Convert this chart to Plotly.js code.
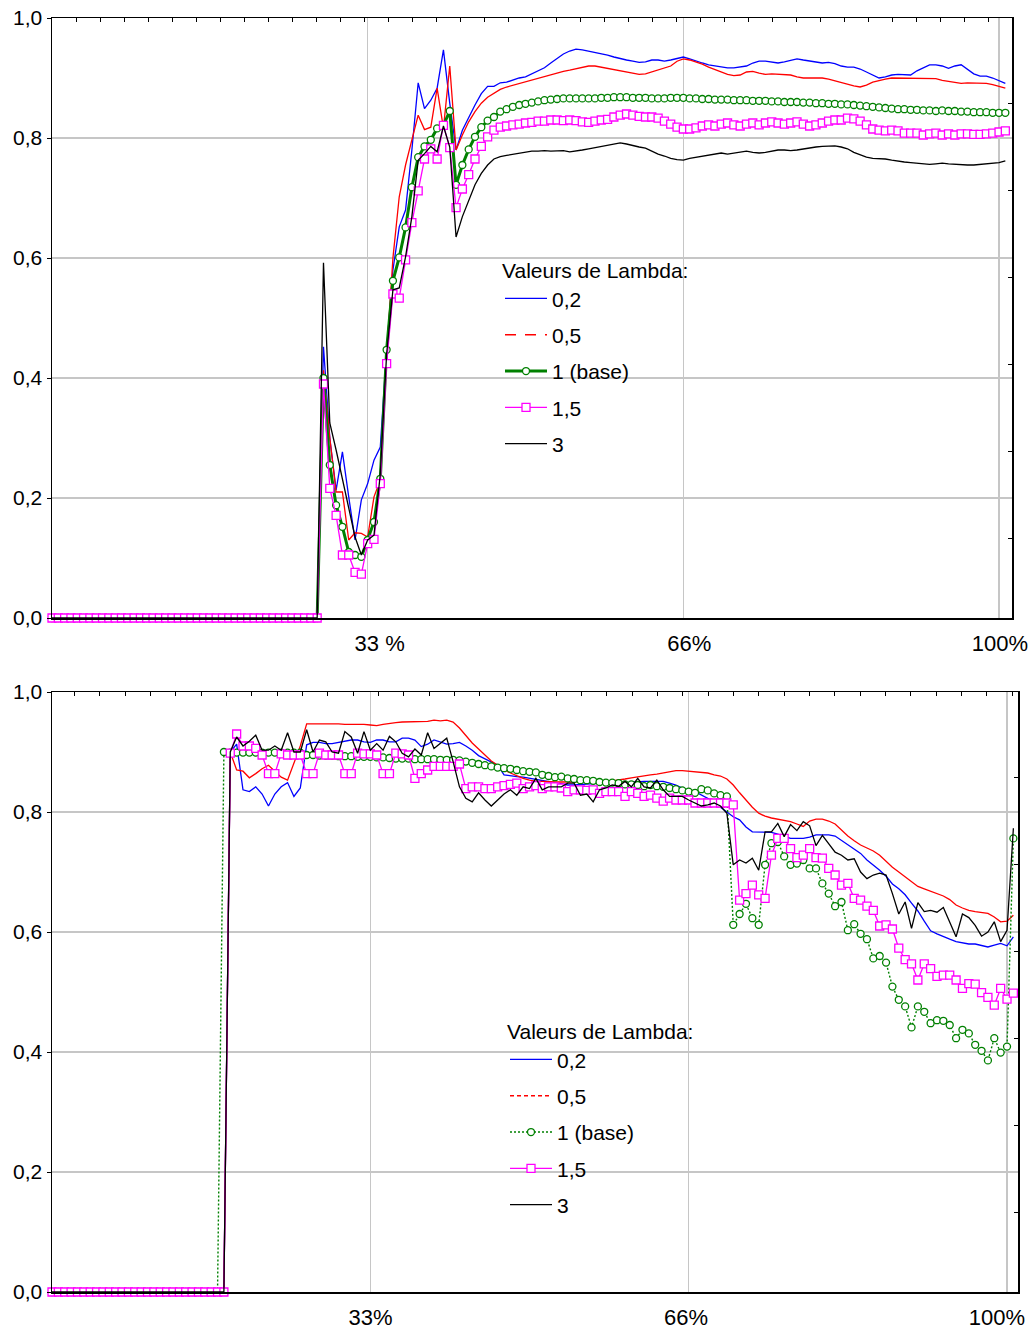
<!DOCTYPE html>
<html>
<head>
<meta charset="utf-8">
<script src="https://cdn.plot.ly/plotly-3.0.1.min.js"></script>
<style>
  html, body { margin: 0; padding: 0; background: #ffffff; }
  #chart { width: 1033px; height: 1331px; }
</style>
</head>
<body>
<div id="chart"></div>
<script>
// Sample spacing along the horizontal axis (percent of the horizon per step)
const STEP = 2 / 3;

// Gridline positions and tick labels
const GRID_X = [100 / 3, 200 / 3, 100];
const TOP_X_LABEL_POS = [34.6, 67.3, 100.1];
const TOP_X_LABELS = ['33 %', '66%', '100%'];
const BOT_X_LABEL_POS = [33.35, 66.4, 98.95];
const BOT_X_LABELS = ['33%', '66%', '100%'];
const Y_TICKS = [0, 0.2, 0.4, 0.6, 0.8, 1.0];
const Y_LABELS = ['0,0', '0,2', '0,4', '0,6', '0,8', '1,0'];

// Legend entries
const SERIES_NAMES = ['0,2', '0,5', '1 (base)', '1,5', '3'];
const LEGEND_TITLE = 'Valeurs de Lambda:';

// Flat start of the upper panel (steps 0-42)
const TOP_ZERO = [0,0,0,0,0,0,0,0,0,0, 0,0,0,0,0,0,0,0,0,0, 0,0,0,0,0,0,0,0,0,0, 0,0,0,0,0,0,0,0,0,0, 0,0,0];

// Upper panel, steps 43-151
const TOP_L02 = [...TOP_ZERO,
  0.452, 0.300, 0.213, 0.277, 0.202, 0.130, 0.197,
  0.224, 0.263, 0.285, 0.447, 0.580, 0.652, 0.680, 0.780, 0.892, 0.849,
  0.863, 0.883, 0.947, 0.858, 0.780, 0.813, 0.835, 0.855, 0.874, 0.886,
  0.886, 0.892, 0.893, 0.897, 0.900, 0.902, 0.907, 0.912, 0.917, 0.925,
  0.933, 0.940, 0.945, 0.948, 0.947, 0.945, 0.943, 0.940, 0.938, 0.935,
  0.932, 0.930, 0.928, 0.926, 0.927, 0.930, 0.930, 0.928, 0.930, 0.933,
  0.935, 0.932, 0.928, 0.925, 0.922, 0.920, 0.918, 0.917, 0.917, 0.918,
  0.920, 0.925, 0.928, 0.928, 0.927, 0.925, 0.927, 0.930, 0.932, 0.930,
  0.928, 0.926, 0.925, 0.926, 0.924, 0.920, 0.918, 0.918, 0.915, 0.910,
  0.905, 0.900, 0.902, 0.905, 0.906, 0.906, 0.905, 0.912, 0.917, 0.922,
  0.922, 0.920, 0.916, 0.920, 0.922, 0.915, 0.907, 0.903, 0.903, 0.900,
  0.896, 0.891];

const TOP_L05 = [...TOP_ZERO,
  0.413, 0.300, 0.210, 0.210, 0.130, 0.142, 0.141,
  0.135, 0.202, 0.230, 0.436, 0.600, 0.702, 0.755, 0.797, 0.838, 0.814,
  0.818, 0.883, 0.816, 0.920, 0.780, 0.805, 0.827, 0.844, 0.858, 0.868,
  0.874, 0.881, 0.885, 0.888, 0.890, 0.893, 0.896, 0.900, 0.903, 0.906,
  0.909, 0.911, 0.913, 0.915, 0.917, 0.920, 0.920, 0.918, 0.915, 0.913,
  0.912, 0.910, 0.908, 0.906, 0.907, 0.910, 0.913, 0.916, 0.920, 0.928,
  0.932, 0.930, 0.927, 0.923, 0.918, 0.914, 0.910, 0.906, 0.904, 0.905,
  0.910, 0.911, 0.908, 0.906, 0.907, 0.906, 0.906, 0.905, 0.902, 0.900,
  0.900, 0.900, 0.900, 0.898, 0.895, 0.892, 0.889, 0.887, 0.885, 0.888,
  0.893, 0.896, 0.898, 0.900, 0.900, 0.900, 0.900, 0.900, 0.900, 0.900,
  0.899, 0.896, 0.894, 0.892, 0.891, 0.892, 0.892, 0.891, 0.891, 0.889,
  0.886, 0.883];

const TOP_L1 = [...TOP_ZERO,
  0.400, 0.255, 0.188, 0.152, 0.110, 0.105, 0.102,
  0.130, 0.160, 0.232, 0.447, 0.562, 0.601, 0.651, 0.718, 0.768, 0.786,
  0.797, 0.816, 0.821, 0.845, 0.722, 0.755, 0.781, 0.802, 0.818, 0.829,
  0.835, 0.844, 0.848, 0.852, 0.855, 0.857, 0.859, 0.861, 0.863, 0.864,
  0.865, 0.866, 0.866, 0.866, 0.866, 0.866, 0.866, 0.867, 0.867, 0.868,
  0.868, 0.868, 0.867, 0.867, 0.867, 0.866, 0.866, 0.866, 0.867, 0.867,
  0.867, 0.866, 0.866, 0.865, 0.865, 0.864, 0.864, 0.864, 0.863, 0.863,
  0.863, 0.862, 0.862, 0.862, 0.861, 0.861, 0.860, 0.860, 0.860, 0.859,
  0.859, 0.858, 0.858, 0.857, 0.857, 0.856, 0.856, 0.855, 0.854, 0.853,
  0.852, 0.851, 0.850, 0.849, 0.848, 0.848, 0.847, 0.847, 0.846, 0.846,
  0.845, 0.846, 0.845, 0.845, 0.844, 0.844, 0.843, 0.843, 0.843, 0.842,
  0.842, 0.842];

const TOP_L15 = [...TOP_ZERO,
  0.390, 0.216, 0.171, 0.105, 0.105, 0.076, 0.073,
  0.124, 0.131, 0.224, 0.424, 0.540, 0.533, 0.597, 0.659, 0.712, 0.765,
  0.782, 0.765, 0.821, 0.784, 0.684, 0.715, 0.739, 0.765, 0.786, 0.802,
  0.813, 0.818, 0.820, 0.822, 0.823, 0.825, 0.826, 0.828, 0.828, 0.830,
  0.830, 0.829, 0.830, 0.829, 0.827, 0.826, 0.828, 0.830, 0.831, 0.835,
  0.838, 0.840, 0.838, 0.836, 0.835, 0.835, 0.833, 0.828, 0.823, 0.818,
  0.815, 0.815, 0.817, 0.820, 0.822, 0.820, 0.823, 0.825, 0.822, 0.820,
  0.823, 0.825, 0.822, 0.825, 0.827, 0.825, 0.823, 0.825, 0.827, 0.823,
  0.820, 0.822, 0.825, 0.828, 0.830, 0.830, 0.833, 0.832, 0.828, 0.822,
  0.815, 0.813, 0.812, 0.813, 0.812, 0.808, 0.808, 0.808, 0.805, 0.807,
  0.808, 0.805, 0.807, 0.805, 0.807, 0.807, 0.806, 0.806, 0.807, 0.808,
  0.810, 0.812];

const TOP_L3 = [...TOP_ZERO,
  0.592, 0.325, 0.280, 0.230, 0.180, 0.135, 0.105,
  0.130, 0.138, 0.240, 0.440, 0.547, 0.550, 0.602, 0.669, 0.763, 0.774,
  0.786, 0.777, 0.820, 0.785, 0.635, 0.669, 0.697, 0.722, 0.741, 0.755,
  0.765, 0.769, 0.771, 0.773, 0.775, 0.776, 0.778, 0.778, 0.779, 0.778,
  0.778, 0.779, 0.777, 0.778, 0.780, 0.782, 0.784, 0.786, 0.789, 0.791,
  0.792, 0.790, 0.787, 0.785, 0.783, 0.778, 0.773, 0.770, 0.766, 0.764,
  0.763, 0.766, 0.768, 0.770, 0.772, 0.774, 0.775, 0.773, 0.775, 0.777,
  0.778, 0.776, 0.775, 0.776, 0.778, 0.780, 0.780, 0.779, 0.780, 0.782,
  0.784, 0.785, 0.786, 0.786, 0.787, 0.785, 0.782, 0.776, 0.772, 0.768,
  0.766, 0.766, 0.765, 0.763, 0.761, 0.760, 0.759, 0.758, 0.757, 0.756,
  0.757, 0.758, 0.757, 0.756, 0.755, 0.755, 0.755, 0.756, 0.756, 0.757,
  0.759, 0.762];

// Flat start of the lower panel (steps 0-26)
const BOT_ZERO = [0,0,0,0,0,0,0,0,0,0, 0,0,0,0,0,0,0,0,0,0, 0,0,0,0,0,0,0];

// Lower panel; step 27 is still zero except for the base case
const BOT_L02 = [...BOT_ZERO, 0,
  0.900, 0.913,
  0.837, 0.834, 0.842, 0.830, 0.810, 0.830, 0.842, 0.849, 0.826, 0.840,
  0.912, 0.916, 0.916, 0.914, 0.914, 0.916, 0.917, 0.920, 0.920, 0.917,
  0.916, 0.920, 0.920, 0.917, 0.917, 0.923, 0.923, 0.920, 0.909, 0.913,
  0.920, 0.917, 0.913, 0.914, 0.916, 0.910, 0.903, 0.894, 0.889, 0.883,
  0.878, 0.862, 0.860, 0.859, 0.858, 0.856, 0.854, 0.852, 0.851, 0.849,
  0.847, 0.845, 0.845, 0.846, 0.846, 0.847, 0.848, 0.848, 0.849, 0.849,
  0.849, 0.850, 0.851, 0.851, 0.851, 0.851, 0.851, 0.848, 0.845, 0.840,
  0.836, 0.834, 0.828, 0.822, 0.817, 0.808, 0.800, 0.792, 0.787, 0.775,
  0.767, 0.767, 0.767, 0.766, 0.763, 0.760, 0.756, 0.756, 0.756, 0.758,
  0.762, 0.762, 0.762, 0.760, 0.753, 0.745, 0.738, 0.731, 0.720, 0.712,
  0.703, 0.693, 0.680, 0.672, 0.662, 0.648, 0.635, 0.618, 0.602, 0.597,
  0.592, 0.588, 0.584, 0.582, 0.580, 0.580, 0.578, 0.575, 0.578, 0.581,
  0.577, 0.592];

const BOT_L05 = [...BOT_ZERO, 0,
  0.900, 0.870,
  0.868, 0.857, 0.864, 0.872, 0.878, 0.868, 0.858, 0.853, 0.880, 0.910,
  0.947, 0.947, 0.948, 0.947, 0.947, 0.947, 0.946, 0.946, 0.947, 0.946,
  0.945, 0.944, 0.946, 0.948, 0.949, 0.950, 0.950, 0.950, 0.950, 0.951,
  0.953, 0.952, 0.953, 0.950, 0.940, 0.928, 0.915, 0.905, 0.895, 0.885,
  0.878, 0.870, 0.865, 0.860, 0.856, 0.853, 0.851, 0.851, 0.850, 0.850,
  0.850, 0.850, 0.850, 0.850, 0.850, 0.850, 0.850, 0.851, 0.852, 0.853,
  0.855, 0.857, 0.859, 0.860, 0.862, 0.863, 0.865, 0.867, 0.869, 0.869,
  0.868, 0.867, 0.866, 0.865, 0.862, 0.860, 0.855, 0.845, 0.832, 0.820,
  0.808, 0.798, 0.793, 0.790, 0.788, 0.786, 0.784, 0.780, 0.776, 0.785,
  0.788, 0.788, 0.785, 0.780, 0.770, 0.760, 0.752, 0.745, 0.740, 0.735,
  0.728, 0.718, 0.708, 0.700, 0.692, 0.684, 0.676, 0.672, 0.668, 0.663,
  0.660, 0.654, 0.645, 0.640, 0.636, 0.634, 0.633, 0.631, 0.625, 0.617,
  0.618, 0.628];

const BOT_L1 = [...BOT_ZERO,
  0.900, 0.899, 0.899,
  0.899, 0.899, 0.899, 0.899, 0.899, 0.899, 0.899, 0.899, 0.899, 0.899,
  0.895, 0.895, 0.894, 0.894, 0.894, 0.893, 0.893, 0.893, 0.892, 0.892,
  0.892, 0.891, 0.891, 0.890, 0.889, 0.889, 0.889, 0.888, 0.888, 0.888,
  0.888, 0.887, 0.887, 0.887, 0.886, 0.884, 0.882, 0.880, 0.878, 0.876,
  0.874, 0.873, 0.872, 0.870, 0.868, 0.867, 0.866, 0.862, 0.860, 0.858,
  0.859, 0.856, 0.855, 0.853, 0.853, 0.852, 0.850, 0.849, 0.849, 0.848,
  0.846, 0.846, 0.845, 0.843, 0.845, 0.843, 0.842, 0.840, 0.838, 0.836,
  0.834, 0.832, 0.838, 0.836, 0.831, 0.828, 0.826, 0.612, 0.630, 0.647,
  0.623, 0.612, 0.712, 0.748, 0.750, 0.726, 0.712, 0.714, 0.720, 0.706,
  0.706, 0.681, 0.664, 0.643, 0.650, 0.603, 0.613, 0.597, 0.588, 0.556,
  0.560, 0.549, 0.509, 0.487, 0.476, 0.441, 0.476, 0.467, 0.448, 0.453,
  0.452, 0.445, 0.423, 0.437, 0.431, 0.412, 0.402, 0.386, 0.423, 0.399,
  0.409, 0.756];

const BOT_L15 = [...BOT_ZERO, 0,
  0.898, 0.930,
  0.910, 0.910, 0.906, 0.895, 0.864, 0.864, 0.897, 0.895, 0.895, 0.895,
  0.864, 0.864, 0.898, 0.895, 0.895, 0.895, 0.864, 0.864, 0.898, 0.897,
  0.897, 0.895, 0.864, 0.864, 0.898, 0.897, 0.895, 0.856, 0.864, 0.870,
  0.876, 0.876, 0.876, 0.876, 0.880, 0.839, 0.842, 0.842, 0.839, 0.839,
  0.842, 0.844, 0.846, 0.848, 0.839, 0.842, 0.844, 0.839, 0.842, 0.842,
  0.840, 0.834, 0.837, 0.837, 0.836, 0.837, 0.831, 0.834, 0.834, 0.834,
  0.826, 0.834, 0.831, 0.826, 0.828, 0.823, 0.818, 0.823, 0.820, 0.820,
  0.820, 0.815, 0.815, 0.815, 0.815, 0.815, 0.815, 0.812, 0.653, 0.664,
  0.678, 0.662, 0.656, 0.728, 0.756, 0.756, 0.739, 0.724, 0.728, 0.739,
  0.724, 0.723, 0.706, 0.695, 0.678, 0.681, 0.656, 0.653, 0.643, 0.636,
  0.610, 0.612, 0.605, 0.573, 0.554, 0.547, 0.520, 0.547, 0.539, 0.526,
  0.528, 0.528, 0.520, 0.506, 0.514, 0.513, 0.499, 0.491, 0.478, 0.506,
  0.488, 0.498];

const BOT_L3 = [...BOT_ZERO, 0,
  0.900, 0.925,
  0.910, 0.918, 0.928, 0.903, 0.903, 0.910, 0.903, 0.932, 0.900, 0.900,
  0.937, 0.900, 0.920, 0.917, 0.900, 0.898, 0.934, 0.925, 0.898, 0.934,
  0.903, 0.914, 0.903, 0.926, 0.917, 0.898, 0.892, 0.905, 0.895, 0.932,
  0.906, 0.914, 0.923, 0.884, 0.842, 0.823, 0.817, 0.832, 0.820, 0.810,
  0.820, 0.830, 0.837, 0.828, 0.842, 0.839, 0.856, 0.837, 0.842, 0.842,
  0.842, 0.848, 0.848, 0.828, 0.830, 0.817, 0.837, 0.840, 0.845, 0.843,
  0.851, 0.842, 0.856, 0.842, 0.840, 0.853, 0.837, 0.826, 0.826, 0.826,
  0.820, 0.815, 0.810, 0.812, 0.815, 0.810, 0.798, 0.712, 0.720, 0.715,
  0.723, 0.703, 0.767, 0.767, 0.781, 0.759, 0.779, 0.769, 0.784, 0.777,
  0.744, 0.761, 0.747, 0.733, 0.728, 0.720, 0.722, 0.700, 0.689, 0.695,
  0.698, 0.695, 0.664, 0.630, 0.650, 0.606, 0.649, 0.634, 0.636, 0.633,
  0.641, 0.617, 0.592, 0.630, 0.624, 0.611, 0.593, 0.600, 0.617, 0.584,
  0.603, 0.773];

// ---------------------------------------------------------------------------
const FONT = 'Liberation Sans, Arial, Helvetica, sans-serif';
const BLUE = '#0000ff', RED = '#ff0000', GREEN = '#008000', MAGENTA = '#ff00ff', BLACK = '#000000';
const GRID = '#c6c6c6';

const stepsOf = ys => ys.map((_, i) => i * STEP);

function withStyle(base, line, marker) {
  base.mode = marker ? 'lines+markers' : 'lines';
  base.line = line;
  if (marker) base.marker = marker;
  return base;
}

function curve(ys, xa, ya, line, marker) {
  return withStyle({
    type: 'scatter',
    x: stepsOf(ys), y: ys,
    xaxis: xa, yaxis: ya,
    cliponaxis: false,
    showlegend: false,
    hoverinfo: 'skip'
  }, line, marker);
}

function key(name, legend, group, xa, ya, line, marker, rank) {
  return withStyle({
    type: 'scatter',
    x: [null], y: [null],
    xaxis: xa, yaxis: ya,
    name: name, legend: legend, legendgroup: group, legendrank: rank,
    showlegend: true, hoverinfo: 'skip'
  }, line, marker);
}

// Empty trace that makes a frame axis pair exist
function frameHolder(xa, ya) {
  return { type: 'scatter', mode: 'lines', x: [null], y: [null], xaxis: xa, yaxis: ya,
           showlegend: false, hoverinfo: 'skip', line: { width: 0 } };
}

const thin = c => ({ color: c, width: 1.3 });
const circle = { symbol: 'circle', size: 7, color: '#ffffff', line: { color: GREEN, width: 1.3 } };
const square = { symbol: 'square', size: 8, color: '#ffffff', line: { color: MAGENTA, width: 1.3 } };

const traces = [
  frameHolder('x3', 'y'), frameHolder('x', 'y3'),
  frameHolder('x4', 'y2'), frameHolder('x2', 'y4'),
  // upper panel
  curve(TOP_L02, 'x', 'y', thin(BLUE)),
  curve(TOP_L05, 'x', 'y', thin(RED)),
  curve(TOP_L1, 'x', 'y', { color: GREEN, width: 3 }, circle),
  curve(TOP_L15, 'x', 'y', thin(MAGENTA), square),
  curve(TOP_L3, 'x', 'y', thin(BLACK)),
  // lower panel
  curve(BOT_L02, 'x2', 'y2', thin(BLUE)),
  curve(BOT_L05, 'x2', 'y2', thin(RED)),
  curve(BOT_L1, 'x2', 'y2', { color: GREEN, width: 1.4, dash: '2px,2px' }, circle),
  curve(BOT_L15, 'x2', 'y2', thin(MAGENTA), square),
  curve(BOT_L3, 'x2', 'y2', thin(BLACK)),
  // legend keys, upper panel
  key(SERIES_NAMES[0], 'legend', 'a1', 'x', 'y', thin(BLUE), null, 1),
  key(SERIES_NAMES[1], 'legend', 'a2', 'x', 'y', { color: RED, width: 1.3, dash: '11px,9px' }, null, 2),
  key(SERIES_NAMES[2], 'legend', 'a3', 'x', 'y', { color: GREEN, width: 3 }, circle, 3),
  key(SERIES_NAMES[3], 'legend', 'a4', 'x', 'y', thin(MAGENTA), square, 4),
  key(SERIES_NAMES[4], 'legend', 'a5', 'x', 'y', thin(BLACK), null, 5),
  // legend keys, lower panel
  key(SERIES_NAMES[0], 'legend2', 'b1', 'x2', 'y2', thin(BLUE), null, 1),
  key(SERIES_NAMES[1], 'legend2', 'b2', 'x2', 'y2', { color: RED, width: 1.3, dash: '4px,3px' }, null, 2),
  key(SERIES_NAMES[2], 'legend2', 'b3', 'x2', 'y2', { color: GREEN, width: 1.4, dash: '2px,2px' }, circle, 3),
  key(SERIES_NAMES[3], 'legend2', 'b4', 'x2', 'y2', thin(MAGENTA), square, 4),
  key(SERIES_NAMES[4], 'legend2', 'b5', 'x2', 'y2', thin(BLACK), null, 5)
];

// Geometry of the two panels (pixels inside the 1033 x 1331 page)
const PLOT_W = 966, PLOT_H = 1274;
const TOP_W = 960;
const TOP_XMAX = 101.37, BOT_XMAX = 101.15;
const TOP_DOM = [1 - 600 / PLOT_H, 1];
const BOT_DOM = [0, 600 / PLOT_H];

// Bottom axis: labels on the major ticks, vertical gridlines on the minor ticks
function mainX(anchor, domain, range, labelPos, labels) {
  return {
    anchor: anchor, domain: domain, range: range,
    tickvals: labelPos, ticktext: labels, ticks: '', ticklabelstandoff: 4,
    tickfont: { size: 22, family: FONT, color: BLACK },
    showgrid: false,
    minor: { tickvals: GRID_X, showgrid: true, gridcolor: GRID, gridwidth: 1.5, ticks: '' },
    zeroline: false, showline: true, linecolor: BLACK, linewidth: 2.2,
    fixedrange: true
  };
}
function mainY(anchor, domain) {
  return {
    anchor: anchor, domain: domain, range: [0, 1],
    tickvals: Y_TICKS, ticktext: Y_LABELS,
    ticks: 'outside', ticklen: 4, tickcolor: BLACK, tickwidth: 1,
    tickfont: { size: 21, family: FONT, color: BLACK },
    showgrid: true, gridcolor: GRID, gridwidth: 1.5,
    zeroline: false, showline: true, linecolor: BLACK, linewidth: 1.5,
    fixedrange: true
  };
}
// Top frame edge with its small inward ticks
function edgeX(over, anchor, width, t0, dt) {
  return {
    overlaying: over, anchor: anchor, side: 'top', range: [0, width],
    tickmode: 'linear', tick0: t0, dtick: dt, ticks: 'inside', ticklen: 4, tickcolor: BLACK,
    showticklabels: false, showgrid: false, zeroline: false,
    showline: true, linecolor: BLACK, linewidth: 1.5, fixedrange: true
  };
}
// Right frame edge with its small inward ticks
function edgeY(over, anchor, t0, dt) {
  return {
    overlaying: over, anchor: anchor, side: 'right', range: [0, 600],
    tickmode: 'linear', tick0: t0, dtick: dt, ticks: 'inside', ticklen: 4, tickcolor: BLACK,
    showticklabels: false, showgrid: false, zeroline: false,
    showline: true, linecolor: BLACK, linewidth: 1.5, fixedrange: true
  };
}

const legendBase = {
  xanchor: 'left', yanchor: 'top',
  bgcolor: 'rgba(0,0,0,0)', borderwidth: 0,
  font: { family: FONT, size: 21, color: BLACK },
  title: { text: LEGEND_TITLE, font: { family: FONT, size: 21, color: BLACK } },
  traceorder: 'grouped', tracegroupgap: 6, itemwidth: 42
};

const layout = {
  width: 1033, height: 1331,
  margin: { l: 52, r: 15, t: 18, b: 39, pad: 0 },
  paper_bgcolor: '#ffffff', plot_bgcolor: '#ffffff',
  font: { family: FONT, size: 21, color: BLACK },
  hovermode: false,
  showlegend: true,

  xaxis: mainX('y', [0, TOP_W / PLOT_W], [0, TOP_XMAX], TOP_X_LABEL_POS, TOP_X_LABELS),
  yaxis: mainY('x', TOP_DOM),
  xaxis3: edgeX('x', 'y', TOP_W, 24, 24),
  yaxis3: edgeY('y', 'x', 80, 87),

  xaxis2: mainX('y2', [0, 1], [0, BOT_XMAX], BOT_X_LABEL_POS, BOT_X_LABELS),
  yaxis2: mainY('x2', BOT_DOM),
  xaxis4: edgeX('x2', 'y2', PLOT_W, -3, 25.35),
  yaxis4: edgeY('y2', 'x2', 80, 87),

  legend: Object.assign({}, legendBase, { x: (500 - 52) / PLOT_W, y: (1292 - 251) / PLOT_H }),
  legend2: Object.assign({}, legendBase, { x: (505 - 52) / PLOT_W, y: (1292 - 1012) / PLOT_H })
};

Plotly.newPlot('chart', traces, layout, { displayModeBar: false, staticPlot: true, responsive: false });
</script>
</body>
</html>
